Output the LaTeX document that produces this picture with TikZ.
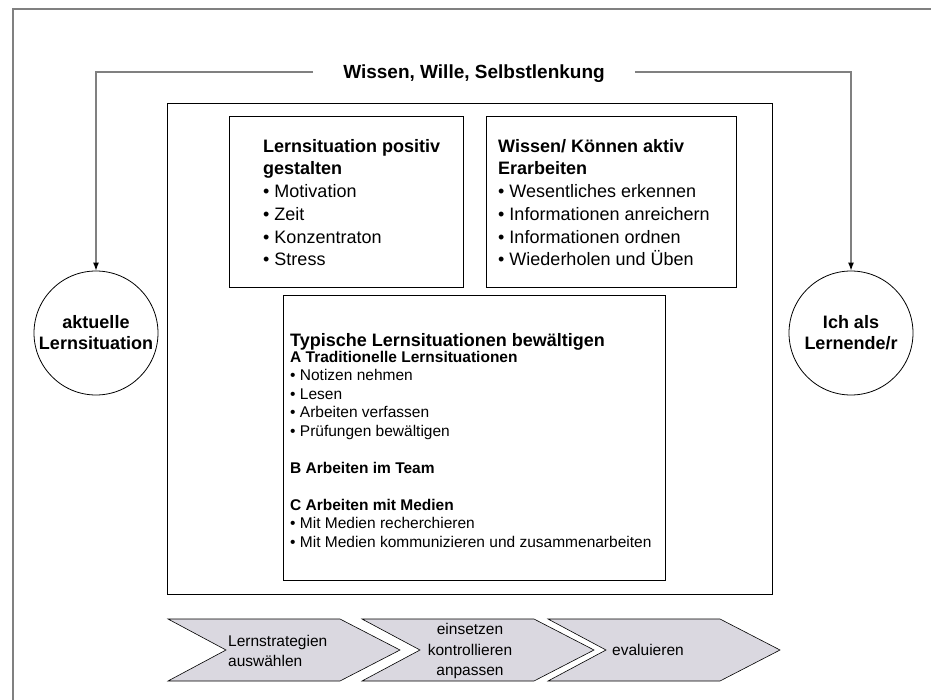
\documentclass[tikz,border=0pt]{standalone}
\usepackage{fontspec}
\setmainfont{Liberation Sans}
\usetikzlibrary{positioning,arrows.meta}
\definecolor{framegray}{RGB}{128,128,128}
\definecolor{chevgray}{RGB}{218,216,224}
\def\chevron(#1){\draw[fill=chevgray, line width=0.6] (#1,619) -- ++(172,0) -- ++(60,31) -- ++(-60,31) -- ++(-172,0) -- ++(58,-31) -- cycle;}

\begin{document}
\begin{tikzpicture}[x=1pt,y=-1pt,
	frame/.style={draw=framegray, line width=2},
	brack/.style={draw=framegray, line width=1.2, -{Latex[color=black,length=8,width=6]}},
	box/.style={draw, line width=0.8, anchor=north west, inner sep=0},
	boxtxt/.style={anchor=north west, align=left, inner sep=0, font=\fontsize{18}{22.7}\selectfont},
	smalltxt/.style={anchor=north west, align=left, inner sep=0, font=\fontsize{15.5}{18.5}\selectfont},
	circ/.style={circle, draw, line width=0.8, minimum size=124, inner sep=0, align=center, font=\bfseries\fontsize{18}{21}\selectfont},
	chevtxt/.style={inner sep=0, font=\fontsize{15.5}{20.5}\selectfont}]
		%%%%% START %%%%%
		\useasboundingbox (0,0) rectangle (931,700);
		
		\draw[frame] (13,700) -- (13,9) -- (931,9);
		
		\node[circ] (akt) at (96,333) {aktuelle\\Lernsituation};
		\node[circ] (ich) at (851,333) {Ich als\\Lernende/r};
		
		\node[inner xsep=30, inner ysep=0, text height=13, text depth=0, font=\bfseries\fontsize{19}{22}\selectfont] (wws) at (474,72) {Wissen, Wille, Selbstlenkung};
		\draw[brack] (wws.west) -| (akt.north);
		\draw[brack] (wws.east) -| (ich.north);
		
		\node[box, minimum width=605, minimum height=491] (rahmen) at (167,103) {};
		
		\node[box, minimum width=234, minimum height=171] (pos) at (229,116) {};
		\node[boxtxt] (postxt) at (263,139) {\textbf{Lernsituation positiv}\\\textbf{gestalten}\\\textbullet\ Motivation\\\textbullet\ Zeit\\\textbullet\ Konzentraton\\\textbullet\ Stress};
		
		\node[box, minimum width=250, minimum height=171] (akv) at (486,116) {};
		\node[boxtxt] (akvtxt) at (498,139) {\textbf{Wissen/ Können aktiv}\\\textbf{Erarbeiten}\\\textbullet\ Wesentliches erkennen\\\textbullet\ Informationen anreichern\\\textbullet\ Informationen ordnen\\\textbullet\ Wiederholen und Üben};
		
		\node[box, minimum width=382, minimum height=285] (typ) at (283,295) {};
		\node[anchor=base west, inner sep=0, font=\bfseries\fontsize{18}{22}\selectfont] (typkopf) at (290,346) {Typische Lernsituationen bewältigen};
		\node[smalltxt] (typtxt) at (290,351) {\textbf{A Traditionelle Lernsituationen}\\\textbullet\ Notizen nehmen\\\textbullet\ Lesen\\\textbullet\ Arbeiten verfassen\\\textbullet\ Prüfungen bewältigen\\[18.5pt]\textbf{B Arbeiten im Team}\\[18.5pt]\textbf{C Arbeiten mit Medien}\\\textbullet\ Mit Medien recherchieren\\\textbullet\ Mit Medien kommunizieren und zusammenarbeiten};
		
		\chevron(168)
		\chevron(362)
		\chevron(548)
		\node[chevtxt, anchor=west, align=left] (wahl) at (228,651) {Lernstrategien\\auswählen};
		\node[chevtxt, align=center] (einsatz) at (470,651) {einsetzen\\kontrollieren\\anpassen};
		\node[chevtxt] (eval) at (648,650) {evaluieren};
		
		%%%%% END %%%%%
	\end{tikzpicture}
\end{document}
